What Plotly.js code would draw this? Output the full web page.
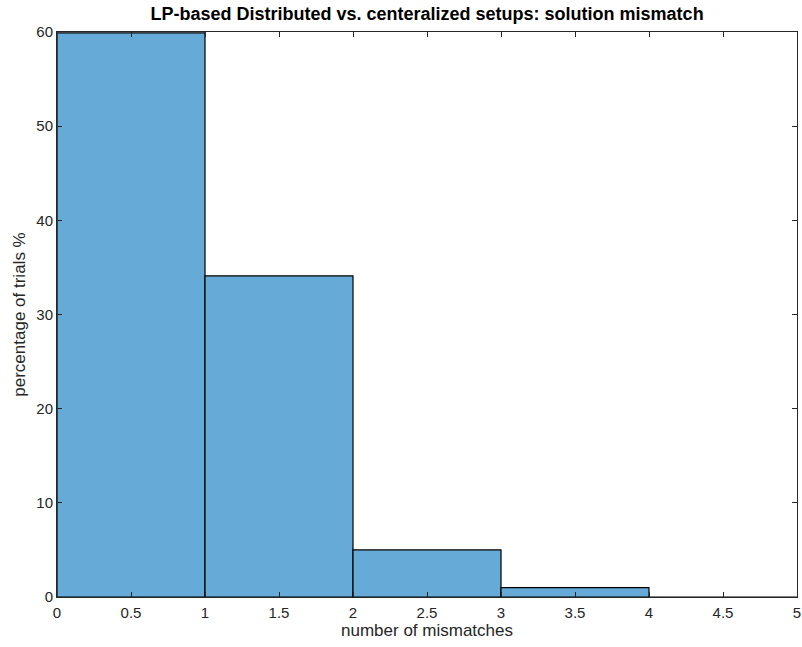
<!DOCTYPE html>
<html>
<head>
<meta charset="utf-8">
<script src="https://cdn.plot.ly/plotly-3.0.1.min.js"></script>
<style>html,body{margin:0;padding:0;background:#fff;}#chart{width:802px;height:647px;}</style>
</head>
<body>
<div id="chart"></div>
<script>
// Histogram bin edges and the share of trials falling in each bin (%)
const binEdges = [0, 1, 2, 3, 4, 5];
const percentTrials = [59.9, 34.1, 5.0, 1.0, 0.0];
const xTickVals = [0, 0.5, 1, 1.5, 2, 2.5, 3, 3.5, 4, 4.5, 5];
const yTickVals = [0, 10, 20, 30, 40, 50, 60];

const binCenters = percentTrials.map((_, i) => (binEdges[i] + binEdges[i + 1]) / 2);
const binWidths = percentTrials.map((_, i) => binEdges[i + 1] - binEdges[i]);

const FONT = 'Liberation Sans, Arial, Helvetica, sans-serif';

const trace = {
  type: 'bar',
  x: binCenters,
  y: percentTrials,
  width: binWidths,
  marker: {color: 'rgb(102,170,215)', line: {color: '#000000', width: 1.2}},
  hoverinfo: 'none'
};

const axisCommon = {
  showline: true, mirror: 'allticks', linecolor: '#262626', linewidth: 1,
  ticks: 'inside', ticklen: 5, tickcolor: '#262626', tickwidth: 1,
  showgrid: false, zeroline: false, automargin: false,
  tickfont: {family: FONT, size: 15, color: '#262626'}
};

const layout = {
  width: 802, height: 647,
  margin: {l: 57, r: 5, t: 32, b: 50},
  paper_bgcolor: '#ffffff', plot_bgcolor: '#ffffff',
  showlegend: false,
  bargap: 0,
  title: {
    text: '<b>LP-based Distributed vs. centeralized setups: solution mismatch</b>',
    font: {family: FONT, size: 18, color: '#000000'},
    x: 0.5325, xanchor: 'center', y: 0.979, yanchor: 'middle'
  },
  xaxis: Object.assign({}, axisCommon, {
    range: [binEdges[0], binEdges[binEdges.length - 1]],
    tickvals: xTickVals, ticktext: xTickVals.map(String),
    ticklabelstandoff: 2,
    title: {text: 'number of mismatches', standoff: 3,
      font: {family: FONT, size: 17, color: '#262626'}}
  }),
  yaxis: Object.assign({}, axisCommon, {
    range: [0, 60],
    tickvals: yTickVals, ticktext: yTickVals.map(String),
    title: {text: 'percentage of trials %', standoff: 6,
      font: {family: FONT, size: 17, color: '#262626'}}
  })
};

Plotly.newPlot('chart', [trace], layout, {displayModeBar: false, staticPlot: true});
</script>
</body>
</html>
